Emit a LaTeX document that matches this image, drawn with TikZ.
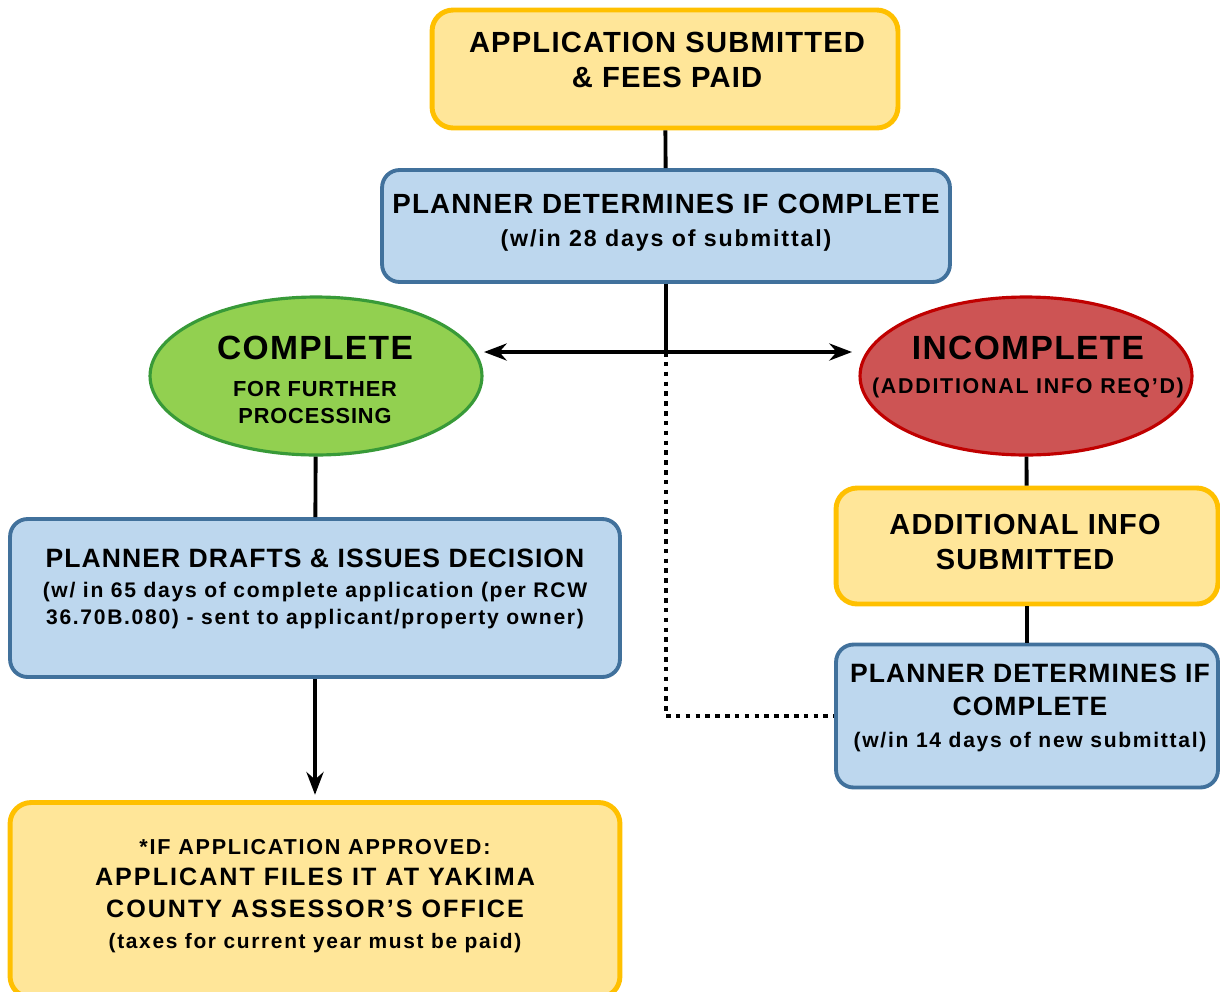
\documentclass[tikz,border=0pt]{standalone}
\usepackage{fontspec}
\setmainfont[LetterSpace=4]{Liberation Sans}
\newfontfamily\spacedfont[LetterSpace=8]{Liberation Sans}
\usetikzlibrary{arrows.meta,shapes.geometric}
\definecolor{boxyellow}{RGB}{255,230,153}
\definecolor{edgeyellow}{RGB}{255,192,0}
\definecolor{boxblue}{RGB}{189,215,238}
\definecolor{edgeblue}{RGB}{65,113,156}
\definecolor{okgreen}{RGB}{146,208,80}
\definecolor{okedge}{RGB}{56,154,56}
\definecolor{badred}{RGB}{205,84,84}
\definecolor{badedge}{RGB}{192,0,0}
\newcommand{\fs}[2]{\fontsize{#1}{#2}\selectfont}

\begin{document}
\begin{tikzpicture}[x=0.02cm,y=-0.02cm,>=Stealth,
    yellowbox/.style={rectangle,rounded corners=12pt,draw=edgeyellow,fill=boxyellow,
        line width=2.8pt,inner sep=0pt},
    bluebox/.style={rectangle,rounded corners=10pt,draw=edgeblue,fill=boxblue,
        line width=2.2pt,inner sep=0pt},
    oval/.style={ellipse,line width=1.8pt,inner sep=0pt,
        minimum width=6.64cm,minimum height=3.16cm},
    words/.style={align=center,inner sep=0pt},
    link/.style={line width=2.2pt}]
    \useasboundingbox (0,0) rectangle (1220,991);

    % Boxes and ovals
    \node[yellowbox,minimum width=9.32cm,minimum height=2.36cm] (app) at (665,69) {};
    \node[bluebox,minimum width=11.36cm,minimum height=2.24cm] (plan1) at (666,226) {};
    \node[oval,fill=okgreen,draw=okedge] (complete) at (316,376) {};
    \node[oval,fill=badred,draw=badedge] (incomplete) at (1026,376) {};
    \node[yellowbox,minimum width=7.64cm,minimum height=2.32cm] (addinfo) at (1027,546) {};
    \node[bluebox,minimum width=7.64cm,minimum height=2.86cm] (plan2) at (1027,716) {};
    \node[bluebox,minimum width=12.2cm,minimum height=3.16cm] (drafts) at (315,598) {};
    \node[yellowbox,minimum width=12.2cm,minimum height=3.9cm] (final) at (315,900) {};

    % Texts
    \node[words,font=\bfseries\fs{16.6}{19.8}] (apptext) at (667,60)
        {APPLICATION SUBMITTED\\\& FEES PAID};
    \node[words,font=\bfseries\fs{15.8}{18.7}] (plan1text) at (666,223)
        {PLANNER DETERMINES IF COMPLETE\\{\spacedfont\fs{13.2}{18.7}(w/in 28 days of submittal)}};
    \node[words,font=\bfseries\fs{12.4}{15.3}] (completetext) at (315,380)
        {{\fs{19.1}{15.3}COMPLETE}\\[5.7pt]FOR FURTHER\\PROCESSING};
    \node[words,font=\bfseries\fs{19.1}{19.8}] (incompletetext) at (1028,367)
        {INCOMPLETE\\{\spacedfont\fs{12.2}{19.8}(ADDITIONAL INFO REQ’D)}};
    \node[words,font=\bfseries\fs{16.5}{19.8}] (addinfotext) at (1025,542)
        {ADDITIONAL INFO\\SUBMITTED};
    \node[words,font=\bfseries\fs{15.1}{18.4}] (plan2text) at (1030,708)
        {PLANNER DETERMINES IF\\COMPLETE\\{\spacedfont\fs{12}{18.4}(w/in 14 days of new submittal)}};
    \node[words,font=\bfseries\spacedfont\fs{12}{15.3}] (draftstext) at (315,589)
        {{\setmainfont[LetterSpace=4]{Liberation Sans}\bfseries\fs{15.1}{15.3}PLANNER DRAFTS \& ISSUES DECISION}\\[1.7pt]
         (w/ in 65 days of complete application (per RCW\\
         36.70B.080) - sent to applicant/property owner)};
    \node[words,font=\bfseries\spacedfont\fs{12.3}{17.8}] (finaltext) at (315,896)
        {*IF APPLICATION APPROVED:\\
         {\fs{14.3}{17.8}APPLICANT FILES IT AT YAKIMA}\\
         {\fs{14.3}{17.8}COUNTY ASSESSOR’S OFFICE}\\
         {\fs{11.9}{17.8}(taxes for current year must be paid)}};

    % Connectors
    \coordinate (split) at (666,352);
    \coordinate (tipL) at (484,352);
    \coordinate (tipR) at (852,352);
    \draw[link] (app) -- (plan1);
    \draw[link] (plan1) -- (split);
    \draw[link,<->] (tipL) -- (tipR);
    \draw[link,line width=2.6pt,dash pattern=on 2.6pt off 3pt] (split) |- (plan2.west);
    \draw[link] (complete) -- (drafts);
    \draw[link,->,shorten >=3pt] (drafts) -- (final);
    \draw[link] (incomplete) -- (addinfo);
    \draw[link] (addinfo) -- (plan2);
\end{tikzpicture}
\end{document}
